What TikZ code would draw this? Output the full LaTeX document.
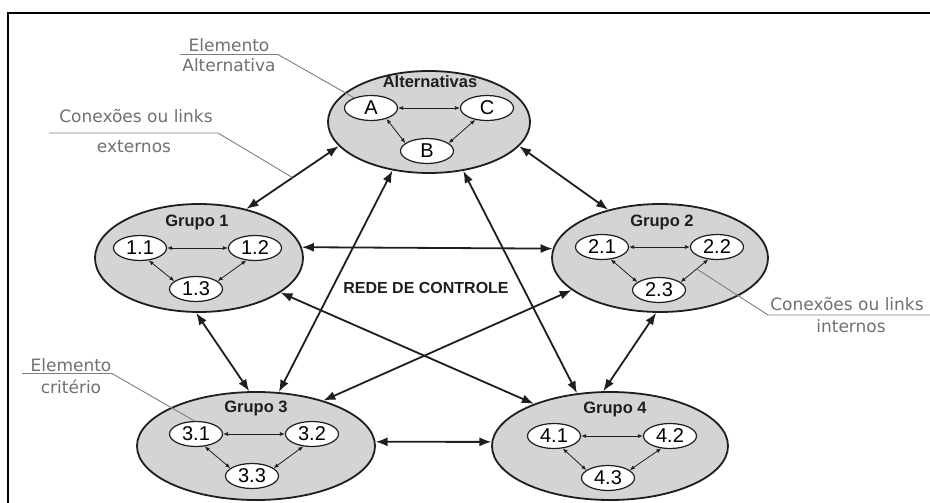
\documentclass[tikz,border=0pt]{standalone}
\usepackage{fontspec}
\setmainfont{Liberation Sans}
\newfontfamily\notefont{DejaVu Sans}
\usetikzlibrary{shapes.geometric,arrows.meta}

\definecolor{grupofill}{RGB}{212,212,212}
\definecolor{notegray}{RGB}{112,112,112}
\definecolor{guiagray}{RGB}{125,125,125}
\definecolor{tinta}{RGB}{30,30,30}

\begin{document}
\begin{tikzpicture}[x=1pt,y=-1pt,
  grupo/.style={ellipse, draw=tinta, line width=1.8pt, fill=grupofill, inner sep=0pt},
  elem/.style={ellipse, draw=tinta, line width=1.2pt, fill=white, inner sep=0pt,
    minimum width=53pt, minimum height=25pt, font=\fontsize{20}{20}\selectfont},
  titulo/.style={font=\bfseries\fontsize{16.5}{16.5}\selectfont, anchor=base, text=tinta},
  externo/.style={line width=1.8pt, draw=tinta,
    {Latex[length=12pt,width=9pt]}-{Latex[length=12pt,width=9pt]}},
  interno/.style={line width=0.8pt, draw=tinta,
    {Latex[length=5pt,width=4pt]}-{Latex[length=5pt,width=4pt]}},
  nota/.style={font=\notefont\fontsize{17}{17}\selectfont, text=notegray, anchor=base},
  guia/.style={draw=guiagray, line width=0.9pt}
]
% page and frame
\fill[white] (0,0) rectangle (930,503);
\useasboundingbox (0,0) rectangle (930,503);
\draw[line width=2pt] (8.3,503) -- (8.3,13.3) -- (930,13.3);

% clusters
\node[grupo, minimum width=202pt, minimum height=102pt] (g0) at (429,122) {};
\node[grupo, minimum width=208pt, minimum height=108pt] (g1) at (199,258) {};
\node[grupo, minimum width=216pt, minimum height=108pt] (g2) at (660,258) {};
\node[grupo, minimum width=238pt, minimum height=108pt] (g3) at (256,446) {};
\node[grupo, minimum width=236pt, minimum height=108pt] (g4) at (610,446) {};

\node[titulo] (t0) at (430,88) {Alternativas};
\node[titulo] (t1) at (197,226) {Grupo 1};
\node[titulo] (t2) at (662,226) {Grupo 2};
\node[titulo] (t3) at (256,412) {Grupo 3};
\node[titulo] (t4) at (615,413) {Grupo 4};

% elements
\node[elem] (ea) at (371,108) {A};
\node[elem] (ec) at (487,108) {C};
\node[elem] (eb) at (427,151) {B};

\node[elem] (e11) at (140,248) {1.1};
\node[elem] (e12) at (255,248) {1.2};
\node[elem] (e13) at (196,289) {1.3};

\node[elem] (e21) at (602,247) {2.1};
\node[elem] (e22) at (717,247) {2.2};
\node[elem] (e23) at (659,290) {2.3};

\node[elem] (e31) at (196,434) {3.1};
\node[elem] (e32) at (312,434) {3.2};
\node[elem] (e33) at (252,476) {3.3};

\node[elem] (e41) at (554,436) {4.1};
\node[elem] (e42) at (670,436) {4.2};
\node[elem] (e43) at (608,478) {4.3};

% links inside each cluster
\draw[interno] (ea.east) -- (ec.west);
\draw[interno] (ea.-35) -- (eb.160);
\draw[interno] (ec.225) -- (eb.20);

\draw[interno] (e11.east) -- (e12.west);
\draw[interno] (e11.-55) -- (e13.160);
\draw[interno] (e12.235) -- (e13.20);

\draw[interno] (e21.east) -- (e22.west);
\draw[interno] (e21.-55) -- (e23.160);
\draw[interno] (e22.235) -- coordinate[pos=0.42] (intmid) (e23.20);

\draw[interno] (e31.east) -- (e32.west);
\draw[interno] (e31.-55) -- (e33.160);
\draw[interno] (e32.235) -- (e33.20);

\draw[interno] (e41.east) -- (e42.west);
\draw[interno] (e41.-55) -- (e43.160);
\draw[interno] (e42.235) -- (e43.20);

% links between clusters
\draw[externo] (g0.195) -- coordinate[pos=0.5] (extmid) (g1.46);
\draw[externo] (g0.345) -- (g2.137);
\draw[externo] (g1.6) -- (g2.175);
\draw[externo] (g0.233) -- (g3.67);
\draw[externo] (g0.305) -- (g4.122);
\draw[externo] (g1.267) -- (g3.97);
\draw[externo] (g1.337) -- (g4.151);
\draw[externo] (g2.200) -- (g3.34);
\draw[externo] (g2.266) -- (g4.97);
\draw[externo] (g3.2) -- (g4.178);

\node[titulo, font=\bfseries\fontsize{16}{16}\selectfont] (rede) at (426,293) {REDE DE CONTROLE};

% callouts
\node[nota] (n1a) at (229,52) {Elemento};
\node[nota] (n1b) at (229,72) {Alternativa};
\coordinate (n1s) at (180,54.5);
\coordinate (n1k) at (278,54.5);
\draw[guia] (n1s) -- (n1k) -- (ea.149);

\node[nota] (n2a) at (136,123) {Conexões ou links};
\node[nota] (n2b) at (134,152) {externos};
\coordinate (n2s) at (49,133);
\coordinate (n2k) at (218,133);
\draw[guia] (n2s) -- (n2k) -- (extmid);

\node[nota] (n3a) at (71,371) {Elemento};
\node[nota] (n3b) at (71,393) {critério};
\coordinate (n3s) at (22,373.5);
\coordinate (n3k) at (112,373.5);
\draw[guia] (n3s) -- (n3k) -- (e31.97);

\node[nota] (n4a) at (847,310) {Conexões ou links};
\node[nota] (n4b) at (851,332) {internos};
\coordinate (n4s) at (930,315);
\coordinate (n4k) at (768,315);
\draw[guia] (n4s) -- (n4k) -- (intmid);
\end{tikzpicture}
\end{document}
